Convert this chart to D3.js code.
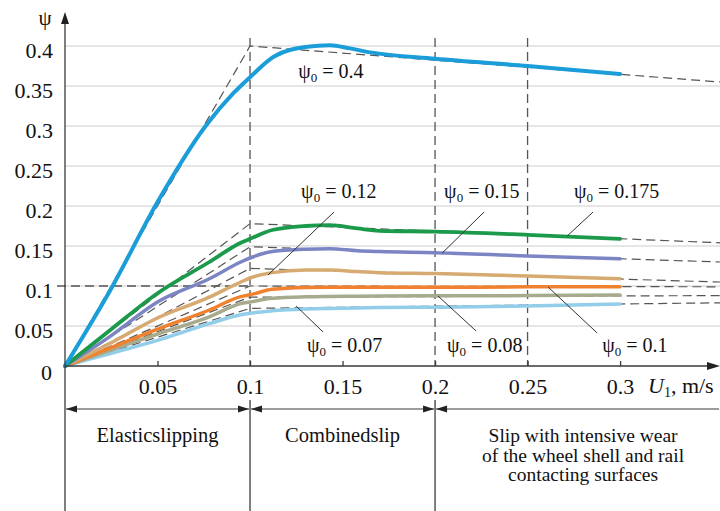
<!DOCTYPE html>
<html><head><meta charset="utf-8">
<script src="https://cdn.jsdelivr.net/npm/d3@7"></script>
<style>
html,body{margin:0;padding:0;background:#fff;}
svg{display:block;}
svg text{font-family:"Liberation Serif","Times New Roman",Times,serif !important;}
</style></head>
<body><svg id="c" width="720" height="511"></svg>
<script>
// ---- data ----
const yTicks = [0, 0.05, 0.1, 0.15, 0.2, 0.25, 0.3, 0.35, 0.4];
const yTickLabels = ["0","0.05","0.1","0.15","0.2","0.25","0.3","0.35","0.4"];
const xTicks = [0.05, 0.1, 0.15, 0.2, 0.25, 0.3];
const xTickLabels = ["0.05","0.1","0.15","0.2","0.25","0.3"];

const psi0 = ["0.4","0.175","0.15","0.12","0.1","0.08","0.07"];

const blueX = [0, 0.025, 0.05, 0.076, 0.091, 0.1, 0.113, 0.131, 0.143, 0.154, 0.165, 0.2, 0.25, 0.3];
const blueY = [0, 0.097, 0.205, 0.30, 0.341, 0.361, 0.387, 0.399, 0.401, 0.397, 0.392, 0.384, 0.375, 0.365];

const xs = [0, 0.025, 0.05, 0.078, 0.095, 0.1, 0.112, 0.13, 0.143, 0.158, 0.17, 0.2, 0.25, 0.3];
const greenY  = [0, 0.046, 0.091, 0.130, 0.154, 0.159, 0.170, 0.175, 0.176, 0.172, 0.169, 0.168, 0.164, 0.159];
const purpleY = [0, 0.038, 0.080, 0.109, 0.130, 0.135, 0.143, 0.146, 0.1466, 0.144, 0.143, 0.1417, 0.1375, 0.134];
const tanY    = [0, 0.029, 0.060, 0.086, 0.105, 0.110, 0.1167, 0.120, 0.120, 0.118, 0.1167, 0.1155, 0.1125, 0.109];
const orangeY = [0, 0.023, 0.046, 0.070, 0.0867, 0.089, 0.0958, 0.098, 0.0983, 0.0983, 0.0983, 0.0983, 0.099, 0.099];
const grayY   = [0, 0.020, 0.040, 0.0615, 0.078, 0.080, 0.0846, 0.0865, 0.087, 0.0873, 0.0875, 0.0877, 0.088, 0.0888];
const lblueY  = [0, 0.016, 0.032, 0.053, 0.064, 0.066, 0.069, 0.0713, 0.072, 0.0725, 0.073, 0.0735, 0.075, 0.0775];

// reference (dashed) broken lines: origin -> (0.1, peak) -> (xEnd, end)
const refPeak = [0.4, 0.178, 0.149, 0.122, 0.1, 0.086, 0.072];
const refEnd  = [0.355, 0.154, 0.130, 0.105, 0.099, 0.088, 0.079];
const xEnd = 0.354;

// label annotations (data coordinates)
const labelVal = ["0.4","0.12","0.15","0.175","0.07","0.08","0.1"];
const labelX = [0.126, 0.1276, 0.2049, 0.2751, 0.1308, 0.2065, 0.2903];
const labelY = [0.36, 0.21, 0.21, 0.21, 0.0175, 0.0175, 0.0175];
const leadX1 = [null, 0.1454, 0.2265, 0.2854, 0.1249, 0.2016, 0.2611];
const leadY1 = [null, 0.1925, 0.1925, 0.1925, 0.075, 0.0875, 0.09875];
const leadX2 = [null, 0.1097, 0.2038, 0.2714, 0.1395, 0.2222, 0.2876];
const leadY2 = [null, 0.11375, 0.141, 0.1625, 0.0425, 0.04375, 0.04125];

const zoneBounds = [0, 0.1, 0.2, xEnd];
const zoneText = [["Elasticslipping"], ["Combinedslip"],
  ["Slip with intensive wear", "of the wheel shell and rail", "contacting surfaces"]];

// ---- drawing ----
const svg = d3.select("#c");
const x = d3.scaleLinear().domain([0, xEnd]).range([65, 720]);
const y = d3.scaleLinear().domain([0, 0.4]).range([366, 46]);
const ink = "#3a3a3a", dash = "#555";

// grid
svg.append("g").selectAll("line").data(yTicks.filter(d => d > 0)).join("line")
  .attr("x1", x(0)).attr("x2", 720).attr("y1", d => y(d)).attr("y2", d => y(d))
  .attr("stroke", "#dedede").attr("stroke-width", 1.5);

// vertical dashed lines
svg.append("g").selectAll("line").data([0.1, 0.2, 0.25]).join("line")
  .attr("x1", d => x(d)).attr("x2", d => x(d)).attr("y1", 38).attr("y2", y(0))
  .attr("stroke", dash).attr("stroke-width", 1.3).attr("stroke-dasharray", "9,5");
// horizontal dashed 0.1
svg.append("line").attr("x1", 57).attr("x2", x(0.1)).attr("y1", y(0.1)).attr("y2", y(0.1))
  .attr("stroke", dash).attr("stroke-width", 1.3).attr("stroke-dasharray", "9,5");

// reference dashed broken lines
const line = d3.line().x(d => x(d[0])).y(d => y(d[1]));
svg.append("g").selectAll("path").data(refPeak.map((p, i) => [[0, 0], [0.1, p], [xEnd, refEnd[i]]]))
  .join("path").attr("d", line).attr("fill", "none")
  .attr("stroke", dash).attr("stroke-width", 1.2).attr("stroke-dasharray", "9,5");

// curves
const curve = d3.line().x(d => x(d[0])).y(d => y(d[1])).curve(d3.curveMonotoneX);
const series = [
  {ys: lblueY, c: "#92cdea", w: 3.5},
  {ys: grayY, c: "#a8aa8d", w: 3.5},
  {ys: orangeY, c: "#f0812e", w: 3.5},
  {ys: tanY, c: "#d6aa70", w: 3.5},
  {ys: purpleY, c: "#7c85c4", w: 3.5},
  {ys: greenY, c: "#1b9a4b", w: 3.8},
];
series.forEach(s => {
  svg.append("path").attr("d", curve(xs.map((v, i) => [v, s.ys[i]])))
    .attr("fill", "none").attr("stroke", s.c).attr("stroke-width", s.w).attr("stroke-linecap", "round");
});
svg.append("path").attr("d", curve(blueX.map((v, i) => [v, blueY[i]])))
  .attr("fill", "none").attr("stroke", "#1a9dd8").attr("stroke-width", 4).attr("stroke-linecap", "round");

// axes
const gx = svg.append("g").attr("transform", `translate(0,${y(0)})`)
  .call(d3.axisBottom(x).tickValues(xTicks).tickSize(-5).tickPadding(12).tickFormat((d, i) => xTickLabels[i]));
gx.select(".domain").remove();
gx.selectAll(".tick line").attr("stroke", ink).attr("stroke-width", 1.3);
gx.selectAll("text").attr("font-size", 22).attr("fill", "#111");

const gy = svg.append("g").attr("transform", `translate(${x(0)},0)`)
  .call(d3.axisLeft(y).tickValues(yTicks).tickSize(0).tickPadding(12).tickFormat((d, i) => yTickLabels[i]));
gy.select(".domain").remove();
gy.selectAll("text").attr("font-size", 22).attr("fill", "#111")
  .attr("dy", d => d === 0 ? "0.62em" : "0.53em").attr("x", d => d === 0 ? -13 : -12);

// axis lines + arrows
svg.append("line").attr("x1", x(0)).attr("x2", x(0)).attr("y1", 20).attr("y2", 511)
  .attr("stroke", ink).attr("stroke-width", 1.3);
svg.append("line").attr("x1", x(0)).attr("x2", 712).attr("y1", y(0)).attr("y2", y(0))
  .attr("stroke", ink).attr("stroke-width", 1.3);
svg.append("path").attr("d", `M${x(0)},12 L${x(0) - 4},24 L${x(0) + 4},24 Z`).attr("fill", "#222");
svg.append("path").attr("d", `M720,${y(0)} L707,${y(0) - 4} L707,${y(0) + 4} Z`).attr("fill", "#222");

// axis titles
svg.append("text").attr("x", 45).attr("y", 25).attr("text-anchor", "middle")
  .attr("font-size", 21).attr("fill", "#111").text("ψ");
const ut = svg.append("text").attr("x", 648).attr("y", 393).attr("font-size", 22).attr("fill", "#111");
ut.append("tspan").attr("font-style", "italic").text("U");
ut.append("tspan").attr("font-size", 14).attr("dy", 4).text("1");
ut.append("tspan").attr("dy", -4).text(", m/s");

// psi0 labels
labelVal.forEach((v, i) => {
  const t = svg.append("text").attr("x", x(labelX[i])).attr("y", y(labelY[i]))
    .attr("font-size", 20).attr("fill", "#111");
  t.append("tspan").text("ψ");
  t.append("tspan").attr("font-size", 13).attr("dy", 4).text("0");
  t.append("tspan").attr("dy", -4).text(" = " + v);
  if (leadX1[i] !== null) {
    svg.append("line").attr("x1", x(leadX1[i])).attr("y1", y(leadY1[i]))
      .attr("x2", x(leadX2[i])).attr("y2", y(leadY2[i]))
      .attr("stroke", "#333").attr("stroke-width", 1);
  }
});

// zones below axis
[0.1, 0.2].forEach(b => {
  svg.append("line").attr("x1", x(b)).attr("x2", x(b)).attr("y1", 400).attr("y2", 511)
    .attr("stroke", ink).attr("stroke-width", 1.3);
});
const ay = 409;
for (let i = 0; i < 3; i++) {
  const a = x(zoneBounds[i]) + 1, b = x(zoneBounds[i + 1]) - 1;
  svg.append("line").attr("x1", a).attr("x2", b).attr("y1", ay).attr("y2", ay)
    .attr("stroke", ink).attr("stroke-width", 1.2);
  svg.append("path").attr("d", `M${a},${ay} L${a + 11},${ay - 3.5} L${a + 11},${ay + 3.5} Z`).attr("fill", "#222");
  if (i < 2) svg.append("path").attr("d", `M${b},${ay} L${b - 11},${ay - 3.5} L${b - 11},${ay + 3.5} Z`).attr("fill", "#222");
  const cx = i === 2 ? x(0.28) : x((zoneBounds[i] + zoneBounds[i + 1]) / 2);
  zoneText[i].forEach((s, j) => {
    svg.append("text").attr("x", cx).attr("y", 442 + j * 19.5).attr("text-anchor", "middle")
      .attr("font-size", i === 2 ? 19.5 : 20.5).attr("fill", "#111").text(s);
  });
}
</script></body></html>
